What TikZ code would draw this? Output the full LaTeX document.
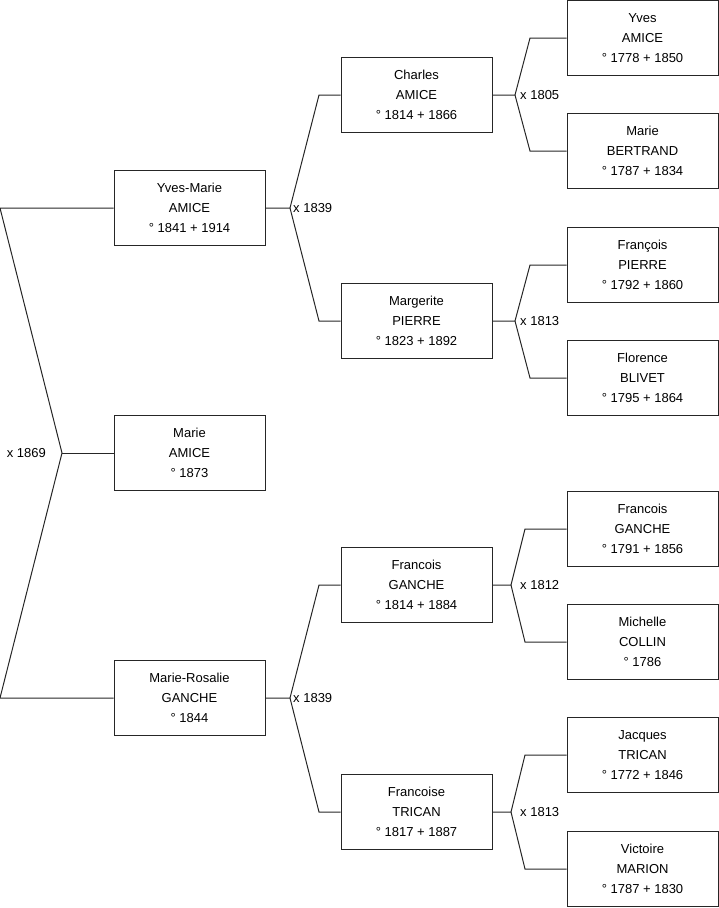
\documentclass[tikz,border=0pt]{standalone}
\usepackage{fontspec}
\setmainfont{Liberation Sans}
\usepackage{tikz}
\tikzstyle{personnode} = [rectangle, minimum width=151pt, minimum height=75pt, inner sep=0pt, align=center, draw=black!85, line width=1pt, font=\fontsize{13}{20}\selectfont]
\tikzstyle{link} = [draw=black!85, line width=1pt]
\tikzstyle{wedding} = [inner sep=0pt, font=\fontsize{13}{15}\selectfont]

\begin{document}
\begin{tikzpicture}[x=1pt, y=-1pt]
    \useasboundingbox (0,0) rectangle (719,908);

    % generation 1
    \node (ym) [personnode] at (189.5,208) {Yves-Marie\\AMICE\\° 1841 + 1914};
    \node (ma) [personnode] at (189.5,453) {Marie\\AMICE\\° 1873};
    \node (mr) [personnode] at (189.5,698) {Marie-Rosalie\\GANCHE\\° 1844};

    % generation 2
    \node (ca) [personnode] at (416.5,95) {Charles\\AMICE\\° 1814 + 1866};
    \node (mp) [personnode] at (416.5,321) {Margerite\\PIERRE\\° 1823 + 1892};
    \node (fg) [personnode] at (416.5,585) {Francois\\GANCHE\\° 1814 + 1884};
    \node (ft) [personnode] at (416.5,812) {Francoise\\TRICAN\\° 1817 + 1887};

    % generation 3
    \node (ya) [personnode] at (642.5,38) {Yves\\AMICE\\° 1778 + 1850};
    \node (mb) [personnode] at (642.5,151) {Marie\\BERTRAND\\° 1787 + 1834};
    \node (fp) [personnode] at (642.5,265) {François\\PIERRE\\° 1792 + 1860};
    \node (fb) [personnode] at (642.5,378) {Florence\\BLIVET\\° 1795 + 1864};
    \node (fgg) [personnode] at (642.5,529) {Francois\\GANCHE\\° 1791 + 1856};
    \node (mc) [personnode] at (642.5,642) {Michelle\\COLLIN\\° 1786};
    \node (jt) [personnode] at (642.5,755) {Jacques\\TRICAN\\° 1772 + 1846};
    \node (vm) [personnode] at (642.5,869) {Victoire\\MARION\\° 1787 + 1830};

    % marriages
    \coordinate (top1869) at (0,208);
    \coordinate (x1869) at (62,453);
    \coordinate (bot1869) at (0,698);
    \node (l1869) [wedding, anchor=east] at (46,453) {x 1869};
    \draw [link] (ym.west) -- (top1869) -- (x1869) -- (bot1869) -- (mr.west);
    \draw [link] (x1869) -- (ma.west);

    \coordinate (x1839a) at (290,208);
    \node (l1839a) [wedding, anchor=west] at (293,208) {x 1839};
    \draw [link] (ym.east) -- (x1839a) -- (319,95) -- (ca.west);
    \draw [link] (x1839a) -- (319,321) -- (mp.west);

    \coordinate (x1839b) at (290,698);
    \node (l1839b) [wedding, anchor=west] at (293,698) {x 1839};
    \draw [link] (mr.east) -- (x1839b) -- (319,585) -- (fg.west);
    \draw [link] (x1839b) -- (319,812) -- (ft.west);

    \coordinate (x1805) at (515,95);
    \node (l1805) [wedding, anchor=west] at (520,95) {x 1805};
    \draw [link] (ca.east) -- (x1805) -- (530,38) -- (ya.west);
    \draw [link] (x1805) -- (530,151) -- (mb.west);

    \coordinate (x1813a) at (515,321);
    \node (l1813a) [wedding, anchor=west] at (520,321) {x 1813};
    \draw [link] (mp.east) -- (x1813a) -- (530,265) -- (fp.west);
    \draw [link] (x1813a) -- (530,378) -- (fb.west);

    \coordinate (x1812) at (511,585);
    \node (l1812) [wedding, anchor=west] at (520,585) {x 1812};
    \draw [link] (fg.east) -- (x1812) -- (525,529) -- (fgg.west);
    \draw [link] (x1812) -- (525,642) -- (mc.west);

    \coordinate (x1813b) at (511,812);
    \node (l1813b) [wedding, anchor=west] at (520,812) {x 1813};
    \draw [link] (ft.east) -- (x1813b) -- (525,755) -- (jt.west);
    \draw [link] (x1813b) -- (525,869) -- (vm.west);
\end{tikzpicture}
\end{document}
